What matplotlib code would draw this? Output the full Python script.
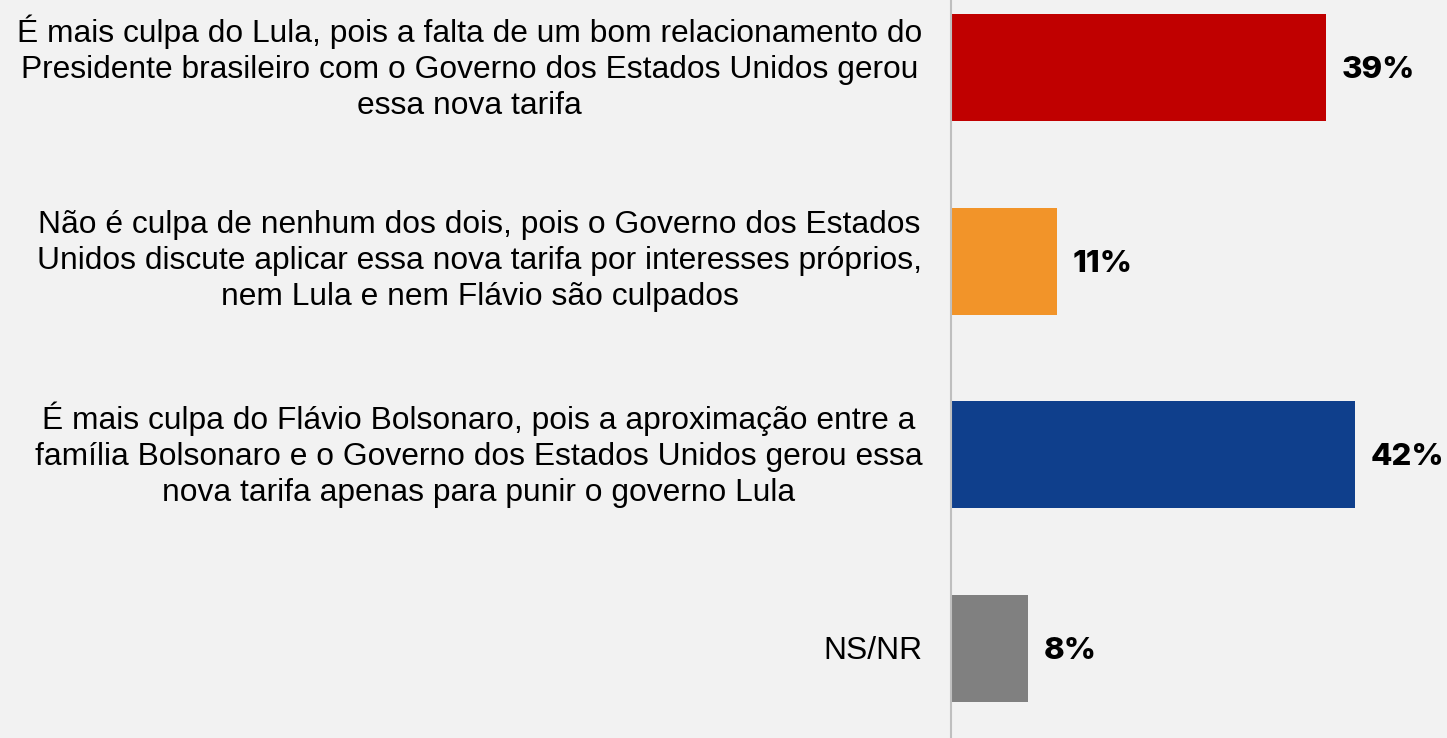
import matplotlib
matplotlib.use("Agg")
import matplotlib.pyplot as plt

# Survey answers (top to bottom) and their shares in percent
categories = [
    "É mais culpa do Lula, pois a falta de um bom relacionamento do\n"
    "Presidente brasileiro com o Governo dos Estados Unidos gerou\n"
    "essa nova tarifa",
    "Não é culpa de nenhum dos dois, pois o Governo dos Estados\n"
    "Unidos discute aplicar essa nova tarifa por interesses próprios,\n"
    "nem Lula e nem Flávio são culpados",
    "É mais culpa do Flávio Bolsonaro, pois a aproximação entre a\n"
    "família Bolsonaro e o Governo dos Estados Unidos gerou essa\n"
    "nova tarifa apenas para punir o governo Lula",
    "NS/NR",
]
values = [39, 11, 42, 8]
colors = ["#C00000", "#F29429", "#0F3F8C", "#808080"]

BG = "#F2F2F2"

fig = plt.figure(figsize=(14.47, 7.38), dpi=100, facecolor=BG)
ax = fig.add_axes([951 / 1447, 0.0, 1 - 951 / 1447, 1.0], facecolor=BG)

ypos = list(range(len(categories)))
ax.barh(ypos, values, height=0.553, color=colors, zorder=2)

ax.set_xlim(0, 51.56)
ax.set_ylim(3.465, -0.349)

# value labels to the right of each bar
for y, v in zip(ypos, values):
    ax.text(v + 1.6, y + 0.015, f"{v}%", va="center", ha="left",
            fontsize=22.5, fontweight="heavy", family="Inter", color="#000000")

# category labels, right-aligned block with centred lines
for y, cat in zip(ypos, categories):
    dy = 0.0 if "\n" in cat else 0.013
    ax.text(-3.0, y + dy, cat, ha="right", va="center", multialignment="center",
            fontsize=22.9, family="Liberation Sans", color="#000000",
            linespacing=1.27, clip_on=False)

ax.set_yticks([])
ax.set_xticks([])

for s in ("top", "right", "bottom"):
    ax.spines[s].set_visible(False)
ax.spines["left"].set_color("#BFBFBF")
ax.spines["left"].set_linewidth(1.5)

fig.savefig("out.png", dpi=100, facecolor=BG)
